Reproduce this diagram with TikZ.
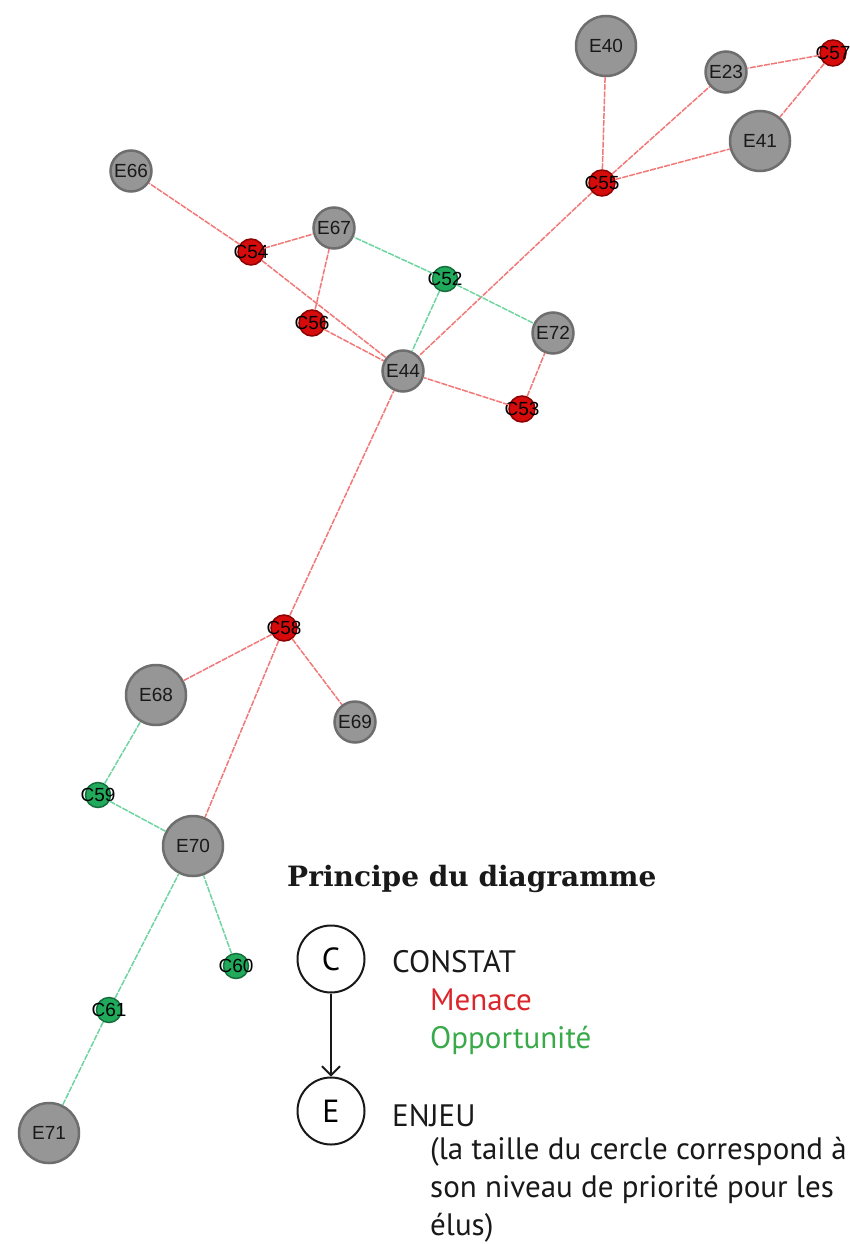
\documentclass[tikz,border=0pt]{standalone}
\usepackage{fontspec}
\setmainfont{Liberation Sans}
\newfontfamily\legendfont{PT Sans}
\newfontfamily\titlefont{DejaVu Serif}
\usetikzlibrary{arrows.meta,positioning}
\definecolor{engrey}{RGB}{150,150,150}
\definecolor{engreydark}{RGB}{110,110,110}
\definecolor{cred}{RGB}{214,12,12}
\definecolor{creddark}{RGB}{140,0,0}
\definecolor{cgreen}{RGB}{34,170,92}
\definecolor{cgreendark}{RGB}{20,110,60}
\definecolor{edgered}{RGB}{242,120,120}
\definecolor{edgegreen}{RGB}{110,212,160}
\definecolor{menacered}{RGB}{218,37,42}
\definecolor{oppgreen}{RGB}{57,170,73}
\tikzstyle{enjeu} = [circle, draw=engreydark, fill=engrey, line width=2.5pt, inner sep=0pt, minimum size=41pt, text=black!90, font=\fontsize{19}{19}\selectfont]
\tikzstyle{bigenjeu} = [enjeu, minimum size=60pt]
\tikzstyle{menacenode} = [circle, draw=creddark, fill=cred, line width=1.5pt, inner sep=0pt, minimum size=26pt]
\tikzstyle{oppnode} = [circle, draw=cgreendark, fill=cgreen, line width=1.5pt, inner sep=0pt, minimum size=25pt]
\tikzstyle{clabel} = [text=black, inner sep=0pt, font=\fontsize{19}{19}\selectfont]
\tikzstyle{menace} = [draw=edgered, line width=1.5pt, dash pattern=on 6pt off 1.2pt]
\tikzstyle{opport} = [draw=edgegreen, line width=1.5pt, dash pattern=on 6pt off 1.2pt]
\tikzstyle{legcircle} = [circle, draw=black!90, line width=2pt, inner sep=0pt, minimum size=67pt, font=\legendfont\fontsize{32}{32}\selectfont]
\tikzstyle{legtext} = [inner sep=0pt, anchor=base west, text=black!90, font=\legendfont\fontsize{31}{39}\selectfont]
\tikzstyle{legarrow} = [draw=black!90, line width=1.8pt, -{Straight Barb[length=9pt,width=18pt,line width=1.8pt]}]

\begin{document}
\begin{tikzpicture}[x=1pt, y=-1pt]
    \useasboundingbox (0,0) rectangle (849,1244);

    % Enjeux
    \node[bigenjeu] (e40) at (606,46) {E40};
    \node[enjeu] (e23) at (726,72) {E23};
    \node[bigenjeu] (e41) at (760,141) {E41};
    \node[enjeu] (e66) at (131,171) {E66};
    \node[enjeu] (e67) at (334,228) {E67};
    \node[enjeu] (e72) at (553,333) {E72};
    \node[enjeu] (e44) at (403,371) {E44};
    \node[bigenjeu] (e68) at (156,695) {E68};
    \node[enjeu] (e69) at (355,722) {E69};
    \node[bigenjeu] (e70) at (193,846) {E70};
    \node[bigenjeu] (e71) at (49,1133) {E71};

    % Constats
    \node[menacenode, label={[clabel]center:C57}] (c57) at (833,53) {};
    \node[menacenode, label={[clabel]center:C55}] (c55) at (602,183) {};
    \node[menacenode, label={[clabel]center:C54}] (c54) at (251,252) {};
    \node[oppnode, label={[clabel]center:C52}] (c52) at (445,279) {};
    \node[menacenode, label={[clabel]center:C56}] (c56) at (312,323) {};
    \node[menacenode, label={[clabel]center:C53}] (c53) at (522,409) {};
    \node[menacenode, label={[clabel]center:C58}] (c58) at (284,628) {};
    \node[oppnode, label={[clabel]center:C59}] (c59) at (98,795) {};
    \node[oppnode, label={[clabel]center:C60}] (c60) at (236,966) {};
    \node[oppnode, label={[clabel]center:C61}] (c61) at (109,1010) {};

    % Menaces
    \draw[menace] (c55) -- (e40);
    \draw[menace] (c55) -- (e23);
    \draw[menace] (c55) -- (e41);
    \draw[menace] (c57) -- (e23);
    \draw[menace] (c57) -- (e41);
    \draw[menace] (c55) -- (e44);
    \draw[menace] (c54) -- (e66);
    \draw[menace] (c54) -- (e67);
    \draw[menace] (c54) -- (e44);
    \draw[menace] (c56) -- (e67);
    \draw[menace] (c56) -- (e44);
    \draw[menace] (c53) -- (e44);
    \draw[menace] (c53) -- (e72);
    \draw[menace] (c58) -- (e44);
    \draw[menace] (c58) -- (e68);
    \draw[menace] (c58) -- (e69);
    \draw[menace] (c58) -- (e70);

    % Opportunites
    \draw[opport] (c52) -- (e67);
    \draw[opport] (c52) -- (e72);
    \draw[opport] (c52) -- (e44);
    \draw[opport] (c59) -- (e68);
    \draw[opport] (c59) -- (e70);
    \draw[opport] (c60) -- (e70);
    \draw[opport] (c61) -- (e70);
    \draw[opport] (c61) -- (e71);

    % Legende
    \node[inner sep=0pt, anchor=base west, text=black!90, font=\titlefont\bfseries\fontsize{28}{28}\selectfont] (titre) at (287,886) {Principe du diagramme};
    \node[legcircle] (legc) at (331,959) {C};
    \node[legcircle] (lege) at (331,1111) {E};
    \draw[legarrow] (legc) -- (lege);
    \node[legtext] (constat) at (392,972) {CONSTAT};
    \node[legtext, text=menacered] (menace) at (430,1010) {Menace};
    \node[legtext, text=oppgreen] (opportunite) at (430,1048) {Opportunité};
    \node[legtext] (enjeu) at (392,1126) {ENJEU};
    \node[legtext, align=left, font=\legendfont\fontsize{31}{38}\selectfont] (taille) at (430,1235) {(la taille du cercle correspond à\\son niveau de priorité pour les\\élus)};
\end{tikzpicture}
\end{document}
